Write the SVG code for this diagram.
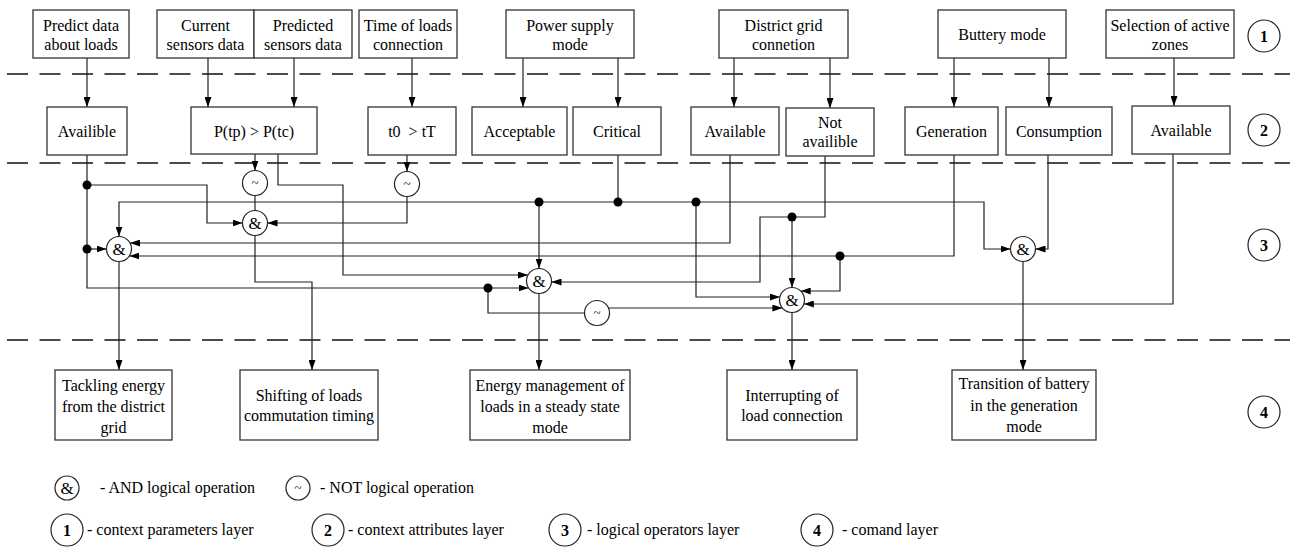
<svg xmlns="http://www.w3.org/2000/svg" width="1290" height="552" viewBox="0 0 1290 552">
<style>
  .bx{fill:#fff;stroke:#333;stroke-width:1.3}
  .t{font-family:"Liberation Serif","Times New Roman",serif;font-size:16px;fill:#000;text-anchor:middle}
  .tl{font-family:"Liberation Serif","Times New Roman",serif;font-size:16px;fill:#000;text-anchor:start}
  .b{font-weight:bold}
  .g{fill:#fff;stroke:#222;stroke-width:1.2}
  .w{fill:none;stroke:#222;stroke-width:1.2}
  .wa{fill:none;stroke:#222;stroke-width:1.2;marker-end:url(#ah)}
  .dash{fill:none;stroke:#111;stroke-width:1.6;stroke-dasharray:21 11.5}
  .dot{fill:#000}
</style>
<defs>
  <marker id="ah" viewBox="0 0 10 7" refX="10" refY="3.5" markerWidth="10" markerHeight="7" markerUnits="userSpaceOnUse" orient="auto">
    <path d="M0,0 L10,3.5 L0,7 z" fill="#000"/>
  </marker>
</defs>
<rect width="1290" height="552" fill="#fff"/>

<g id="separators">
  <line class="dash" x1="7" y1="74" x2="1290" y2="74"/>
  <line class="dash" x1="7" y1="163" x2="1290" y2="163"/>
  <line class="dash" x1="7" y1="340" x2="1290" y2="340"/>
</g>

<g id="connectors">
  <polyline class="wa" points="87,58 87,107"/>
  <polyline class="wa" points="208,58 208,107"/>
  <polyline class="wa" points="294,58 294,107"/>
  <polyline class="wa" points="412,58 412,107"/>
  <polyline class="wa" points="523,58 523,107"/>
  <polyline class="wa" points="618,58 618,107"/>
  <polyline class="wa" points="734,58 734,107"/>
  <polyline class="wa" points="830,58 830,108"/>
  <polyline class="wa" points="954,58 954,107"/>
  <polyline class="wa" points="1049,58 1049,107"/>
  <polyline class="wa" points="1174,58 1174,106"/>

  <polyline class="wa" points="87,155 87,288 528.6,288"/>
  <polyline class="wa" points="87,185 207,185 207,223 242.5,223"/>
  <polyline class="wa" points="87,249 106.5,249"/>
  <polyline class="w" points="488,288 488,313 584.5,313"/>
  <polyline class="wa" points="608.4,308 782.4,308"/>
  <polyline class="wa" points="255,154 255,170.5"/>
  <polyline class="w" points="255,195.5 255,210.5"/>
  <polyline class="wa" points="407,155 407,171.5"/>
  <polyline class="wa" points="407,196.5 407,223 267.5,223"/>
  <polyline class="wa" points="278,154 278,185 343,185 343,275 528,275"/>
  <polyline class="w" points="618,155 618,202"/>
  <polyline class="wa" points="618,202 119,202 119,236.5"/>
  <polyline class="wa" points="618,202 984,202 984,249 1010.5,249"/>
  <polyline class="wa" points="539,202 539,268.5"/>
  <polyline class="wa" points="696,202 696,297 779.9,297"/>
  <polyline class="wa" points="730,155 730,243 130,243"/>
  <polyline class="wa" points="954,155 954,256 129.4,256"/>
  <polyline class="wa" points="840,256 840,291 800.7,291"/>
  <polyline class="wa" points="825,156 825,217 760,217 760,282 551.5,282"/>
  <polyline class="wa" points="792,217 792,287.5"/>
  <polyline class="wa" points="1173,154 1173,304 803.8,304"/>
  <polyline class="wa" points="1048,155 1048,249 1035.5,249"/>

  <polyline class="wa" points="119,261.5 119,370"/>
  <polyline class="wa" points="255,235.5 255,282 312,282 312,370"/>
  <polyline class="wa" points="539,293.5 539,370"/>
  <polyline class="wa" points="792,312.5 792,370"/>
  <polyline class="wa" points="1023,261.5 1023,370"/>

  <circle class="dot" cx="87" cy="185" r="4.5"/>
  <circle class="dot" cx="87" cy="249" r="4.5"/>
  <circle class="dot" cx="488" cy="288" r="4.5"/>
  <circle class="dot" cx="539" cy="202" r="4.5"/>
  <circle class="dot" cx="618" cy="202" r="4.5"/>
  <circle class="dot" cx="696" cy="202" r="4.5"/>
  <circle class="dot" cx="792" cy="217" r="4.5"/>
  <circle class="dot" cx="840" cy="256" r="4.5"/>
</g>

<!-- Layer 1 -->
<g id="p-predict"><rect class="bx" x="33" y="10" width="96" height="48"/><text class="t" x="81" y="31">Predict data</text><text class="t" x="81" y="50">about loads</text></g>
<g id="p-current"><rect class="bx" x="157" y="10" width="97" height="48"/><text class="t" x="205.5" y="31">Current</text><text class="t" x="205.5" y="50">sensors data</text></g>
<g id="p-predicted"><rect class="bx" x="254" y="10" width="98" height="48"/><text class="t" x="303" y="31">Predicted</text><text class="t" x="303" y="50">sensors data</text></g>
<g id="p-time"><rect class="bx" x="359" y="10" width="98" height="48"/><text class="t" x="408" y="31">Time of loads</text><text class="t" x="408" y="50">connection</text></g>
<g id="p-power"><rect class="bx" x="506" y="10" width="128" height="48"/><text class="t" x="570" y="31">Power supply</text><text class="t" x="570" y="50">mode</text></g>
<g id="p-district"><rect class="bx" x="719" y="10" width="129" height="48"/><text class="t" x="783.5" y="31">District grid</text><text class="t" x="783.5" y="50">connetion</text></g>
<g id="p-battery"><rect class="bx" x="938" y="10" width="128" height="48"/><text class="t" x="1002" y="40">Buttery mode</text></g>
<g id="p-zones"><rect class="bx" x="1106" y="10" width="128" height="48"/><text class="t" x="1170" y="31">Selection of active</text><text class="t" x="1170" y="50">zones</text></g>
<g id="layer1"><circle class="g" cx="1264" cy="36" r="16"/><text class="t b" x="1264" y="41.5">1</text></g>

<!-- Layer 2 -->
<g id="a-availible"><rect class="bx" x="47" y="107" width="80" height="48"/><text class="t" x="87" y="137">Availible</text></g>
<g id="a-ptp"><rect class="bx" x="191" y="107" width="126" height="47"/><text class="t" x="254" y="137">P(tp) &gt; P(tc)</text></g>
<g id="a-t0"><rect class="bx" x="368" y="107" width="88" height="48"/><text class="t" x="412" y="137" style="white-space:pre">t0  &gt; tT</text></g>
<g id="a-acceptable"><rect class="bx" x="472" y="107" width="95" height="48"/><text class="t" x="519.5" y="137">Acceptable</text></g>
<g id="a-critical"><rect class="bx" x="573" y="107" width="88" height="48"/><text class="t" x="617" y="137">Critical</text></g>
<g id="a-available1"><rect class="bx" x="691" y="107" width="88" height="48"/><text class="t" x="735" y="137">Available</text></g>
<g id="a-notavailible"><rect class="bx" x="786" y="108" width="88" height="48"/><text class="t" x="830" y="128">Not</text><text class="t" x="830" y="147">availible</text></g>
<g id="a-generation"><rect class="bx" x="905" y="107" width="93" height="48"/><text class="t" x="951.5" y="137">Generation</text></g>
<g id="a-consumption"><rect class="bx" x="1006" y="107" width="106" height="48"/><text class="t" x="1059" y="137">Consumption</text></g>
<g id="a-available2"><rect class="bx" x="1132" y="106" width="98" height="48"/><text class="t" x="1181" y="136">Available</text></g>
<g id="layer2"><circle class="g" cx="1264" cy="130" r="16"/><text class="t b" x="1264" y="135.5">2</text></g>

<!-- Layer 3 gates -->
<g id="not1"><circle class="g" cx="255" cy="183" r="12.5"/><text class="t" x="255" y="187" style="font-size:13px">~</text></g>
<g id="not2"><circle class="g" cx="407" cy="184" r="12.5"/><text class="t" x="407" y="188" style="font-size:13px">~</text></g>
<g id="not3"><circle class="g" cx="597" cy="313" r="12.5"/><text class="t" x="597" y="317" style="font-size:13px">~</text></g>
<g id="and1"><circle class="g" cx="119" cy="249" r="12.5"/><text class="t" x="119" y="255" style="font-size:17px">&amp;</text></g>
<g id="and2"><circle class="g" cx="255" cy="223" r="12.5"/><text class="t" x="255" y="229" style="font-size:17px">&amp;</text></g>
<g id="and3"><circle class="g" cx="539" cy="281" r="12.5"/><text class="t" x="539" y="287" style="font-size:17px">&amp;</text></g>
<g id="and4"><circle class="g" cx="1023" cy="249" r="12.5"/><text class="t" x="1023" y="255" style="font-size:17px">&amp;</text></g>
<g id="and5"><circle class="g" cx="792" cy="300" r="12.5"/><text class="t" x="792" y="306" style="font-size:17px">&amp;</text></g>
<g id="layer3"><circle class="g" cx="1264" cy="245" r="16"/><text class="t b" x="1264" y="250.5">3</text></g>

<!-- Layer 4 -->
<g id="c-tackling"><rect class="bx" x="55" y="370" width="117" height="70"/><text class="t" x="113.5" y="390.5">Tackling energy</text><text class="t" x="113.5" y="411.5">from the district</text><text class="t" x="113.5" y="432.5">grid</text></g>
<g id="c-shifting"><rect class="bx" x="240" y="370" width="138" height="70"/><text class="t" x="309" y="400.5">Shifting of loads</text><text class="t" x="309" y="420.5">commutation timing</text></g>
<g id="c-energy"><rect class="bx" x="470" y="370" width="160" height="70"/><text class="t" x="550" y="390.5">Energy management of</text><text class="t" x="550" y="411.5">loads in a steady state</text><text class="t" x="550" y="432.5">mode</text></g>
<g id="c-interrupt"><rect class="bx" x="727" y="370" width="130" height="70"/><text class="t" x="792" y="400.5">Interrupting of</text><text class="t" x="792" y="420.5">load connection</text></g>
<g id="c-transition"><rect class="bx" x="952" y="370" width="144" height="70"/><text class="t" x="1024" y="389">Transition of battery</text><text class="t" x="1024" y="410.5">in the generation</text><text class="t" x="1024" y="432">mode</text></g>
<g id="layer4"><circle class="g" cx="1264" cy="412" r="16"/><text class="t b" x="1264" y="417.5">4</text></g>

<!-- Legend -->
<g id="legend">
  <circle class="g" cx="67" cy="488" r="12"/><text class="t" x="67" y="494" style="font-size:17px">&amp;</text>
  <text class="tl" x="100" y="493">- AND logical operation</text>
  <circle class="g" cx="298" cy="488" r="12"/><text class="t" x="298" y="492" style="font-size:13px">~</text>
  <text class="tl" x="320" y="493">- NOT logical operation</text>
  <circle class="g" cx="67" cy="530" r="16"/><text class="t b" x="67" y="535.5">1</text>
  <text class="tl" x="87" y="535">- context parameters layer</text>
  <circle class="g" cx="328" cy="530" r="16"/><text class="t b" x="328" y="535.5">2</text>
  <text class="tl" x="348" y="535">- context attributes layer</text>
  <circle class="g" cx="565" cy="530" r="16"/><text class="t b" x="565" y="535.5">3</text>
  <text class="tl" x="587" y="535">- logical operators layer</text>
  <circle class="g" cx="817" cy="530" r="16"/><text class="t b" x="817" y="535.5">4</text>
  <text class="tl" x="842" y="535">- comand layer</text>
</g>
</svg>
